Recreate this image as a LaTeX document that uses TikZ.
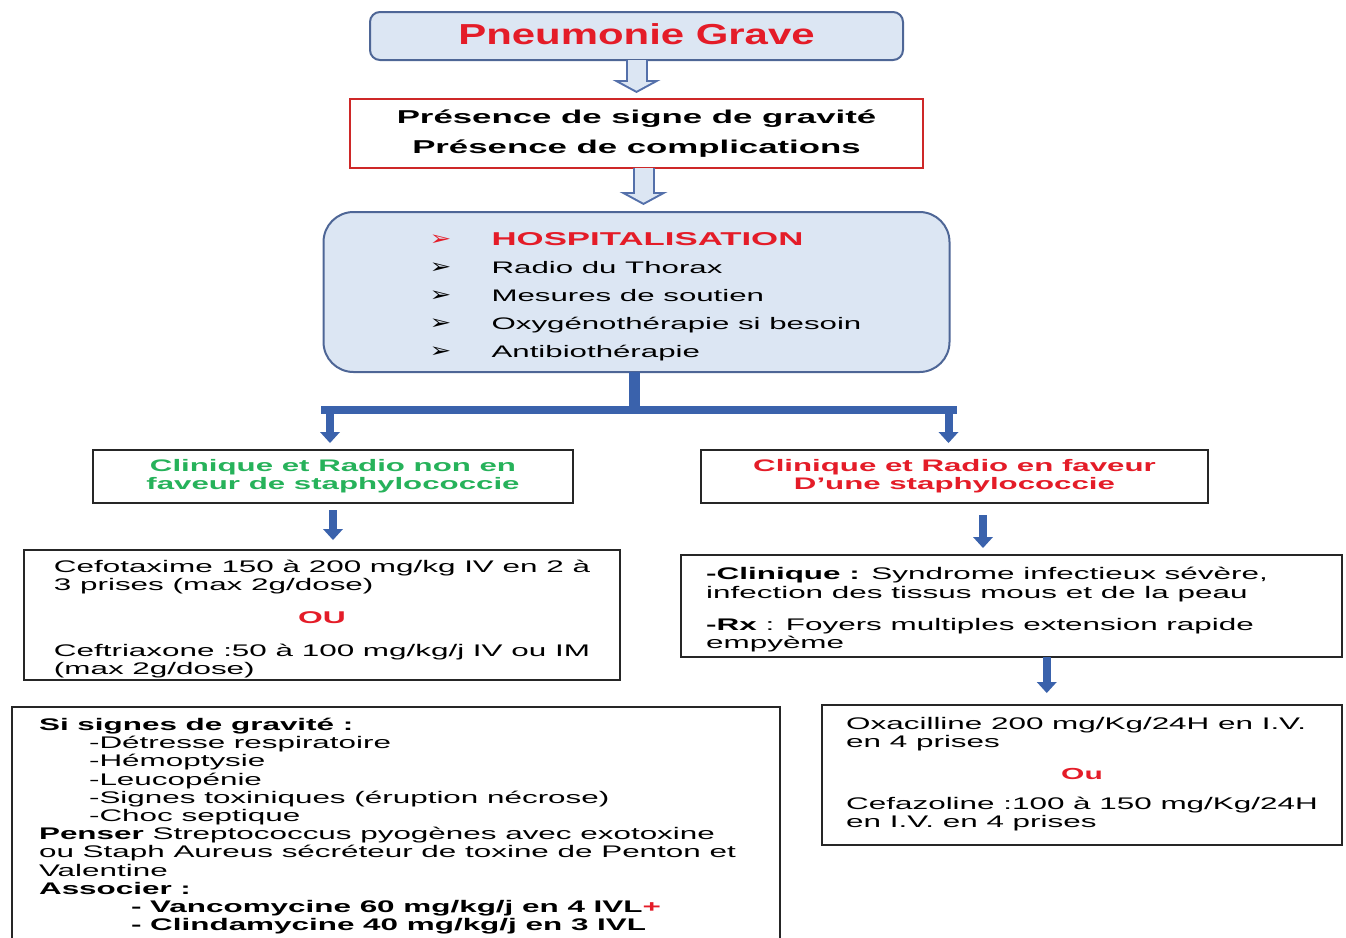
\documentclass[tikz,border=0pt]{standalone}
\usepackage{fontspec}
\setmainfont[FakeStretch=1.87]{Liberation Sans}
\newfontfamily\titlefont[FakeStretch=1.45]{Liberation Sans}
\newfontfamily\bulletfont[FakeStretch=1.3]{DejaVu Sans}
\usepackage{tikz}
\usetikzlibrary{positioning}
\usetikzlibrary{calc,arrows.meta}

\definecolor{paleblue}{RGB}{220,230,243}
\definecolor{frameblue}{RGB}{78,102,150}
\definecolor{arrowedge}{RGB}{84,112,170}
\definecolor{linkblue}{RGB}{58,98,172}
\definecolor{alertred}{RGB}{228,28,40}
\definecolor{okgreen}{RGB}{38,178,90}
\definecolor{boxred}{RGB}{206,40,40}

\begin{document}
\begin{tikzpicture}[x=1pt, y=-1pt,
roundbox/.style={draw=frameblue, fill=paleblue, line width=2pt, rounded corners=10pt, inner sep=0pt, outer sep=0pt},
linebox/.style={draw=black!85, line width=1.8pt, fill=white, inner sep=0pt, outer sep=0pt},
redbox/.style={draw=boxred, line width=1.6pt, fill=white, inner sep=0pt, outer sep=0pt},
bodytext/.style={font=\fontsize{16.8}{18.2}\selectfont},
headtext/.style={align=center, font=\fontsize{16.7}{18}\selectfont\bfseries},
hollowout/.style={line width=22pt, draw=arrowedge, -{Triangle[width=48pt,length=13pt,line width=0pt]}},
hollowin/.style={line width=18pt, draw=paleblue, -{Triangle[width=32pt,length=8.7pt,line width=0pt]}},
bigarrow/.style={line width=8pt, draw=linkblue, -{Triangle[width=20pt,length=11pt,line width=0pt]}},
linkbar/.style={draw=linkblue}
]
\useasboundingbox (0,0) rectangle (1346,937);

%Nodes
\node[roundbox, minimum width=533pt, minimum height=48pt, text=alertred,
  font=\titlefont\fontsize{28.9}{30}\selectfont\bfseries] (pneu) at (636.5,36) {\raisebox{3pt}{Pneumonie Grave}};
\node[redbox, minimum width=573pt, minimum height=69pt, align=center,
  font=\fontsize{18.6}{30}\selectfont\bfseries] (grav) [below=39pt of pneu]
  {Présence de signe de gravité\\Présence de complications};
\node[roundbox, rounded corners=30pt, minimum width=626pt, minimum height=160pt,
  font=\fontsize{16.7}{28}\selectfont] (hosp) [below=44pt of grav] {%
  \begin{tabular}{@{\hspace{18pt}}l@{}}
  \noalign{\vskip 7pt}
  \makebox[62pt][l]{\bulletfont\fontsize{20}{20}\selectfont\color{alertred}➢}{\fontsize{18.6}{28}\selectfont\bfseries\color{alertred}HOSPITALISATION}\\
  \makebox[62pt][l]{\bulletfont\fontsize{20}{20}\selectfont ➢}Radio du Thorax\\
  \makebox[62pt][l]{\bulletfont\fontsize{20}{20}\selectfont ➢}Mesures de soutien\\
  \makebox[62pt][l]{\bulletfont\fontsize{20}{20}\selectfont ➢}Oxygénothérapie si besoin\\
  \makebox[62pt][l]{\bulletfont\fontsize{20}{20}\selectfont ➢}Antibiothérapie
  \end{tabular}};

\node[linebox, minimum width=480pt, minimum height=53pt, headtext, text=okgreen] (nonstaph) at (333,476.5)
  {Clinique et Radio non en\\faveur de staphylococcie};
\node[linebox, minimum width=507pt, minimum height=53pt, headtext, text=alertred] (staph) at (954.5,476.5)
  {Clinique et Radio en faveur\\D’une staphylococcie};

\node[linebox, minimum width=596pt, minimum height=130pt, bodytext] (cefo) at (322,615) {%
  \begin{tabular}{@{}l@{}}
  \noalign{\vskip 10pt}
  Cefotaxime 150 à 200 mg/kg IV en 2 à\\
  3 prises (max 2g/dose)\\[14pt]
  \multicolumn{1}{@{}c@{}}{\fontsize{17}{18}\selectfont\bfseries\color{alertred}OU}\\[15pt]
  Ceftriaxone :50 à 100 mg/kg/j IV ou IM\\
  (max 2g/dose)
  \end{tabular}};

\node[linebox, minimum width=661pt, minimum height=102pt, bodytext] (clinrx) at (1011.5,606) {%
  \begin{tabular}{@{}l@{\hspace{49pt}}}
  \noalign{\vskip 9pt}
  \textbf{-Clinique :} Syndrome infectieux sévère,\\
  infection des tissus mous et de la peau\\[14pt]
  \textbf{-Rx} : Foyers multiples extension rapide\\
  empyème
  \end{tabular}};

\node[linebox, minimum width=520pt, minimum height=140pt, bodytext] (oxa) at (1082,775) {%
  \begin{tabular}{@{}l@{}}
  Oxacilline 200 mg/Kg/24H en I.V.\\
  en 4 prises\\[13pt]
  \multicolumn{1}{@{}c@{}}{\fontsize{16}{18}\selectfont\bfseries\color{alertred}Ou}\\[12pt]
  Cefazoline :100 à 150 mg/Kg/24H\\
  en I.V. en 4 prises
  \end{tabular}};

\node[linebox, minimum width=768pt, minimum height=234pt, bodytext] (sev) at (396,824) {%
  \begin{tabular}{@{}l@{\hspace{17pt}}}
  \noalign{\vskip 6pt}
  \textbf{Si signes de gravité :}\\
  \hspace*{50pt}-Détresse respiratoire\\
  \hspace*{50pt}-Hémoptysie\\
  \hspace*{50pt}-Leucopénie\\
  \hspace*{50pt}-Signes toxiniques (éruption nécrose)\\
  \hspace*{50pt}-Choc septique\\
  \textbf{Penser} Streptococcus pyogènes avec exotoxine\\
  ou Staph Aureus sécréteur de toxine de Penton et\\
  Valentine\\
  \textbf{Associer :}\\
  \hspace*{92pt}\textbf{- Vancomycine 60 mg/kg/j en 4 IVL}{\color{alertred}\textbf{+}}\\
  \hspace*{92pt}\textbf{- Clindamycine 40 mg/kg/j en 3 IVL}
  \end{tabular}};

%Coordinates
\coordinate (fork) at ([yshift=-38pt]hosp.south);
\coordinate (forkL) at ($(fork -| nonstaph.north)+(-3,0)$);
\coordinate (forkR) at ($(fork -| staph.north)+(-6,0)$);
\coordinate (midR) at ($(staph.south)!0.5!(clinrx.north)$);
\coordinate (midRx) at ($(clinrx.south)!0.5!(oxa.north)$);

%Lines
\draw[hollowout, shorten >=6pt] (pneu.south) -- (pneu.south |- grav.north);
\draw[hollowin, shorten >=8.3pt] (pneu.south) -- (pneu.south |- grav.north);
\draw[hollowout, shorten >=7pt] ([xshift=7pt]grav.south) -- ([xshift=7pt]grav.south |- hosp.north);
\draw[hollowin, shorten >=9.3pt] ([xshift=7pt]grav.south) -- ([xshift=7pt]grav.south |- hosp.north);

\draw[linkbar, line width=11pt] ([xshift=-2pt]hosp.south) -- ([xshift=-2pt]fork);
\draw[linkbar, line width=8pt] ($(forkL)+(-9,0)$) -- ($(forkR)+(8,0)$);
\draw[bigarrow, shorten >=7pt] (forkL) -- (forkL |- nonstaph.north);
\draw[bigarrow, shorten >=7pt] (forkR) -- (forkR |- staph.north);

\draw[bigarrow, shorten <=7pt, shorten >=10pt] (nonstaph.south) -- (nonstaph.south |- cefo.north);
\draw[bigarrow, shorten <=12pt, shorten >=7pt] (midR |- staph.south) -- (midR |- clinrx.north);
\draw[bigarrow, shorten >=12pt] (midRx |- clinrx.south) -- (midRx |- oxa.north);
\end{tikzpicture}
\end{document}
